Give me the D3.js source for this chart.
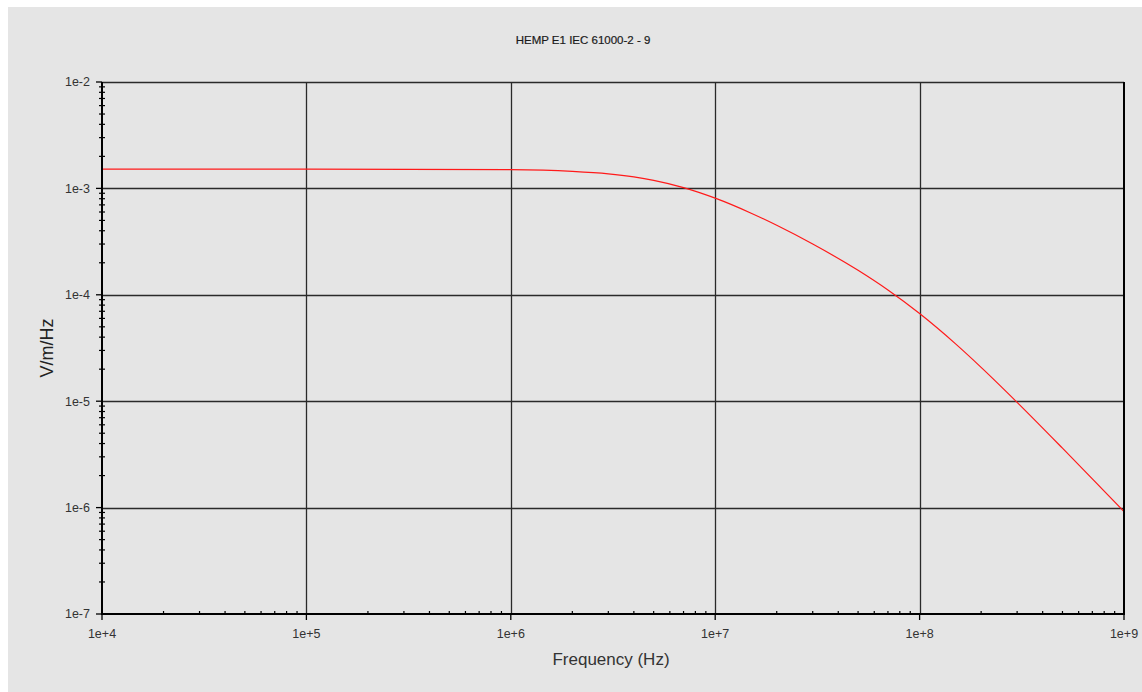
<!DOCTYPE html>
<html>
<head>
<meta charset="utf-8">
<script src="https://cdn.jsdelivr.net/npm/d3@7"></script>
<style>
    body { margin: 0; background: #ffffff; }
    svg { display: block; }
    text { font-family: "Liberation Sans", Arial, sans-serif; }
</style>
</head>
<body>
<svg id="chart" width="1142" height="692"></svg>
<script>
// Valores (frecuencia en Hz, campo en V/m/Hz)
const frequencies = [1e4, 1e5, 1e6, 2e6, 3e6, 4e6, 5e6, 7e6, 1e7, 1.5e7, 2e7, 3e7, 5e7, 7e7,
    1e8, 1.5e8, 2e8, 3e8, 5e8, 7e8, 1e9];
const spectrum = [1.517e-3, 1.517e-3, 1.499e-3, 1.447e-3, 1.372e-3, 1.283e-3, 1.191e-3, 1.018e-3,
    8.10e-4, 5.85e-4, 4.50e-4, 3.00e-4, 1.697e-4, 1.108e-4,
    6.66e-5, 3.455e-5, 2.08e-5, 9.76e-6, 3.62e-6, 1.865e-6, 9.18e-7];
const xTicks = [1e4, 1e5, 1e6, 1e7, 1e8, 1e9];
const xTickLabels = ["1e+4", "1e+5", "1e+6", "1e+7", "1e+8", "1e+9"];
const yTicks = [1e-7, 1e-6, 1e-5, 1e-4, 1e-3, 1e-2];
const yTickLabels = ["1e-7", "1e-6", "1e-5", "1e-4", "1e-3", "1e-2"];

const chartTitle = "HEMP E1 IEC 61000-2 - 9";
const xTitle = "Frequency (Hz)";
const yTitle = "V/m/Hz";

const svg = d3.select("#chart");

// Panel gris
svg.append("rect")
    .attr("x", 8).attr("y", 7)
    .attr("width", 1134).attr("height", 685)
    .attr("fill", "#e5e5e5");

const plotLeft = 102, plotRight = 1124, plotTop = 82, plotBottom = 614;

const x = d3.scaleLog().domain([1e4, 1e9]).range([plotLeft, plotRight]);
const y = d3.scaleLog().domain([1e-7, 1e-2]).range([plotBottom, plotTop]);

// Menores de cada decada
const minorX = [];
for (let d = 1e4; d < 1e9; d *= 10) {
    for (let k = 2; k <= 9; k++) minorX.push(d * k);
}
const minorY = [];
for (let d = 1e-7; d < 1e-2 * 0.999; d *= 10) {
    for (let k = 2; k <= 9; k++) minorY.push(d * k);
}

// Rejilla
const grid = svg.append("g");
grid.selectAll("line.gx")
    .data(xTicks.slice(1, -1))
    .enter().append("line")
    .attr("x1", d => Math.round(x(d)) + 0.5)
    .attr("x2", d => Math.round(x(d)) + 0.5)
    .attr("y1", plotTop).attr("y2", plotBottom)
    .attr("stroke", "#2a2a2a").attr("stroke-width", 1.3);

grid.selectAll("line.gy")
    .data(yTicks.slice(1))
    .enter().append("line")
    .attr("y1", d => Math.round(y(d)) + 0.5)
    .attr("y2", d => Math.round(y(d)) + 0.5)
    .attr("x1", plotLeft).attr("x2", plotRight)
    .attr("stroke", "#2a2a2a").attr("stroke-width", 1.3);

// Curva
const line = d3.line()
    .x((d, i) => x(frequencies[i]))
    .y(d => y(d))
    .curve(d3.curveMonotoneX);

svg.append("path")
    .datum(spectrum)
    .attr("d", line)
    .attr("fill", "none")
    .attr("stroke", "#ff1a1a")
    .attr("stroke-width", 1.2);

// Ejes
const axes = svg.append("g").attr("stroke", "#000");
axes.append("line")
    .attr("x1", plotLeft).attr("x2", plotLeft)
    .attr("y1", plotTop).attr("y2", plotBottom + 1)
    .attr("stroke-width", 2);
axes.append("line")
    .attr("x1", plotLeft).attr("x2", plotRight + 1)
    .attr("y1", plotBottom).attr("y2", plotBottom)
    .attr("stroke-width", 2);
axes.append("line")
    .attr("x1", plotRight).attr("x2", plotRight)
    .attr("y1", plotTop).attr("y2", plotBottom)
    .attr("stroke-width", 2);

// Marcas del eje x
axes.selectAll("line.mx")
    .data(xTicks)
    .enter().append("line")
    .attr("x1", d => x(d)).attr("x2", d => x(d))
    .attr("y1", plotBottom).attr("y2", plotBottom + 6)
    .attr("stroke-width", 1.3);
axes.selectAll("line.nx")
    .data(minorX)
    .enter().append("line")
    .attr("x1", d => x(d)).attr("x2", d => x(d))
    .attr("y1", plotBottom - 3).attr("y2", plotBottom)
    .attr("stroke-width", 1.2);

// Marcas del eje y
axes.selectAll("line.my")
    .data(yTicks)
    .enter().append("line")
    .attr("x1", plotLeft - 6).attr("x2", plotLeft)
    .attr("y1", d => y(d)).attr("y2", d => y(d))
    .attr("stroke-width", 1.3);
axes.selectAll("line.ny")
    .data(minorY)
    .enter().append("line")
    .attr("x1", plotLeft - 3).attr("x2", plotLeft + 3)
    .attr("y1", d => y(d)).attr("y2", d => y(d))
    .attr("stroke-width", 1.2);

// Etiquetas
svg.selectAll("text.xl")
    .data(xTicks)
    .enter().append("text")
    .attr("x", d => x(d))
    .attr("y", 638)
    .attr("text-anchor", "middle")
    .attr("font-size", "12.5px")
    .attr("fill", "#333")
    .text((d, i) => xTickLabels[i]);

svg.selectAll("text.yl")
    .data(yTicks)
    .enter().append("text")
    .attr("x", 90)
    .attr("y", d => y(d))
    .attr("dy", "0.35em")
    .attr("text-anchor", "end")
    .attr("font-size", "12.5px")
    .attr("fill", "#333")
    .text((d, i) => yTickLabels[i]);

svg.append("text")
    .attr("x", 583).attr("y", 44)
    .attr("text-anchor", "middle")
    .attr("font-size", "11.5px")
    .attr("fill", "#1a1a1a")
    .attr("stroke", "#1a1a1a")
    .attr("stroke-width", 0.2)
    .text(chartTitle);

svg.append("text")
    .attr("x", 611).attr("y", 665)
    .attr("text-anchor", "middle")
    .attr("font-size", "17px")
    .attr("fill", "#333")
    .text(xTitle);

svg.append("text")
    .attr("transform", "translate(53,348) rotate(-90)")
    .attr("text-anchor", "middle")
    .attr("font-size", "18px")
    .attr("fill", "#222")
    .text(yTitle);
</script>
</body>
</html>
